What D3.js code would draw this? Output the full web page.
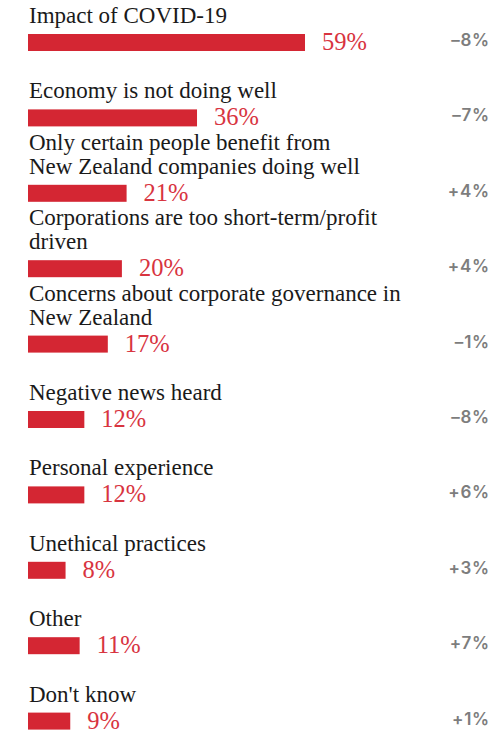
<!DOCTYPE html>
<html>
<head>
<meta charset="utf-8">
<script src="https://cdn.jsdelivr.net/npm/d3@7"></script>
<style>
  html, body { margin: 0; padding: 0; background: #ffffff; }
  svg { display: block; }
</style>
</head>
<body>
<svg id="chart" width="501" height="730"></svg>
<script>
// Reasons given, with manual line breaks ("\n") as set in the layout
const categories = [
  "Impact of COVID-19",
  "Economy is not doing well",
  "Only certain people benefit from\nNew Zealand companies doing well",
  "Corporations are too short-term/profit\ndriven",
  "Concerns about corporate governance in\nNew Zealand",
  "Negative news heard",
  "Personal experience",
  "Unethical practices",
  "Other",
  "Don't know"
];
// Share of respondents (%)
const values = [59, 36, 21, 20, 17, 12, 12, 8, 11, 9];
// Change versus previous wave (percentage points)
const changes = ["-8%", "-7%", "+4%", "+4%", "-1%", "-8%", "+6%", "+3%", "+7%", "+1%"];

const svg = d3.select("#chart");

const barH = 17;
const lineGap = 24;
const x = d3.scaleLinear().domain([0, 59]).range([28, 305]);
const y = d3.scaleBand().domain(categories).range([34, 788]).paddingInner(0).paddingOuter(0);

const rows = svg.selectAll("g.row")
  .data(categories.map((c, i) => ({ label: c, value: values[i], change: changes[i] })))
  .join("g")
  .attr("class", "row")
  .attr("transform", d => `translate(0,${y(d.label)})`);

// bars
rows.append("rect")
  .attr("x", x(0))
  .attr("y", 0)
  .attr("width", d => x(d.value) - x(0))
  .attr("height", barH)
  .attr("fill", "#d42633");

// category labels above each bar; one text per line, last line 11px above the bar
rows.each(function(d) {
  const lines = d.label.split("\n");
  d3.select(this).selectAll("text.cat")
    .data(lines)
    .join("text")
    .attr("class", "cat")
    .attr("x", 29)
    .attr("y", (ln, k) => -11 - (lines.length - 1 - k) * lineGap)
    .attr("font-family", "'Liberation Serif', 'DejaVu Serif', serif")
    .attr("font-size", 23)
    .attr("fill", "#1a1a1a")
    .text(ln => ln);
});

// value labels to the right of each bar
rows.append("text")
  .attr("x", d => x(d.value) + 17)
  .attr("y", barH - 1)
  .attr("font-family", "'Liberation Serif', 'DejaVu Serif', serif")
  .attr("font-size", 24.5)
  .attr("fill", "#d8343f")
  .text(d => d.value + "%");

// change labels, right aligned
rows.append("text")
  .attr("x", 490)
  .attr("y", barH - 5)
  .attr("text-anchor", "end")
  .attr("font-family", "Inter, 'Open Sans', sans-serif")
  .attr("font-weight", 600)
  .attr("font-size", 17)
  .attr("letter-spacing", 0.8)
  .attr("fill", "#7d7d7d")
  .text(d => d.change.replace("-", "–"));
</script>
</body>
</html>
